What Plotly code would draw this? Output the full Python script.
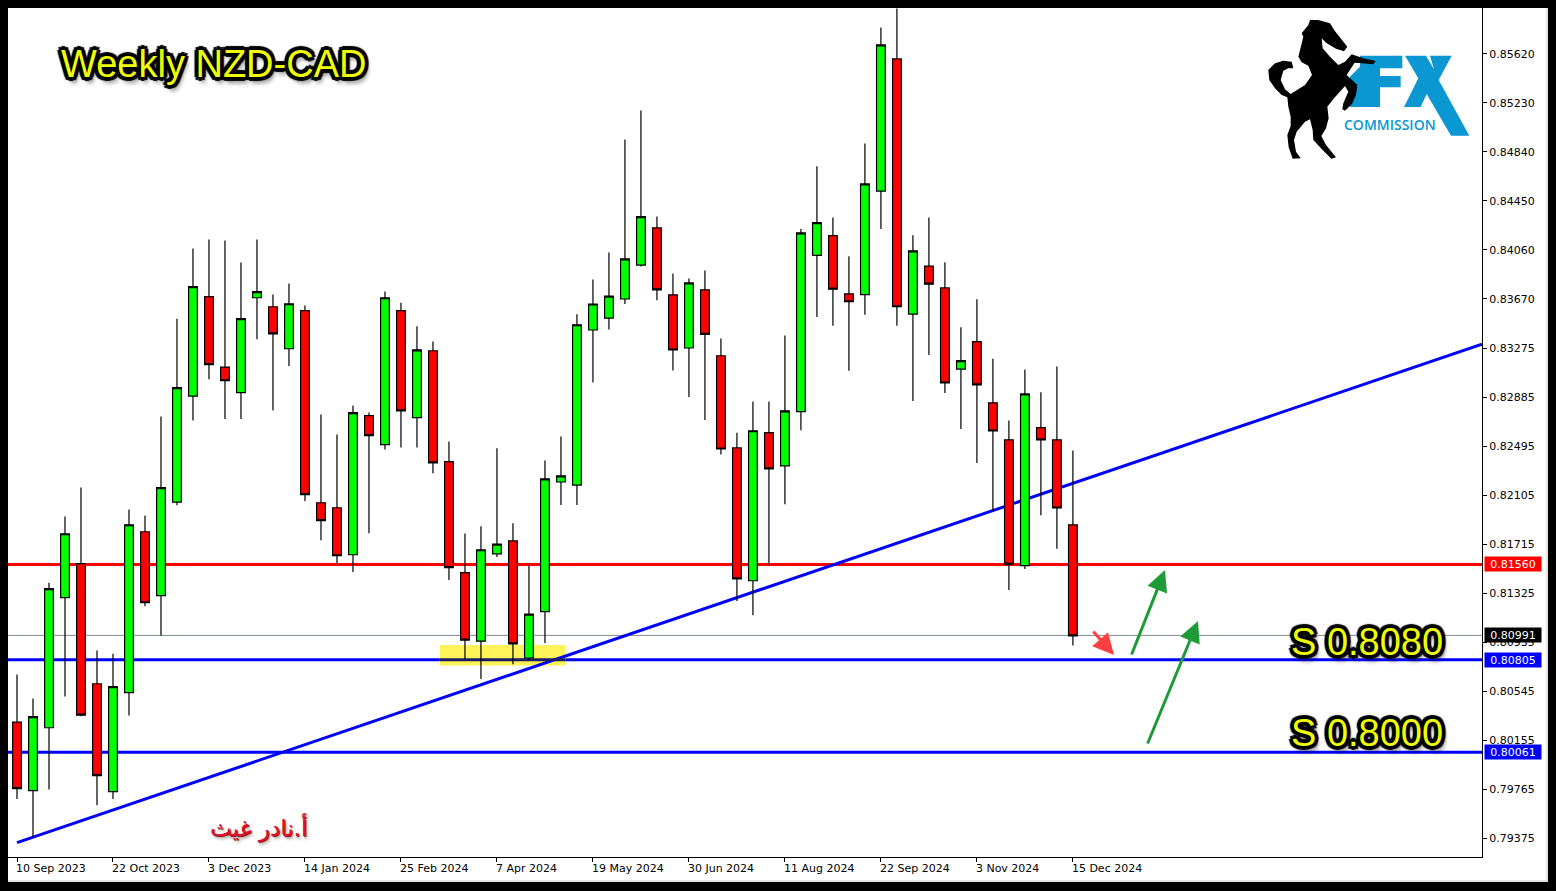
import pandas as pd
import plotly.graph_objects as go

# ---------- data ----------
start_week = "2023-09-10"
open_ = [0.80301,0.79755,0.80256,0.81291,0.81562,0.80606,0.79747,0.80535,0.81816,0.81307,
         0.82052,0.82896,0.83687,0.83127,0.82923,0.83679,0.83607,0.83273,0.83576,0.82047,
         0.82007,0.81633,0.82740,0.82509,0.83576,0.82724,0.83257,0.82374,0.81490,0.80945,
         0.81640,0.81743,0.80811,0.81180,0.82212,0.82188,0.83422,0.83516,0.83669,0.83939,
         0.84235,0.83702,0.83279,0.83742,0.83217,0.82483,0.81426,0.82605,0.82340,0.82772,
         0.84016,0.84173,0.83710,0.83704,0.84528,0.85580,0.83549,0.83931,0.83757,0.83111,
         0.83329,0.82842,0.82548,0.81546,0.82645,0.82548,0.81871]
high = [0.80680,0.80489,0.81410,0.81938,0.82169,0.80871,0.80845,0.81994,0.81946,0.82734,
        0.83512,0.84071,0.84143,0.84135,0.83960,0.84143,0.83705,0.83793,0.83618,0.82750,
        0.82591,0.82822,0.82766,0.83729,0.83639,0.83451,0.83331,0.82535,0.81803,0.81859,
        0.82480,0.81883,0.81545,0.82384,0.82575,0.83547,0.83825,0.84040,0.84939,0.85170,
        0.84326,0.83872,0.83833,0.83896,0.83355,0.82605,0.82852,0.82852,0.83379,0.84227,
        0.84726,0.84318,0.84009,0.84907,0.85831,0.85982,0.84177,0.84318,0.83962,0.83443,
        0.83667,0.83194,0.82702,0.83108,0.82927,0.83131,0.82463]
low = [0.79688,0.79385,0.79765,0.80505,0.80348,0.79638,0.79688,0.80354,0.81224,0.80991,
       0.82028,0.82702,0.83031,0.82713,0.82713,0.83349,0.82782,0.83135,0.82060,0.81749,
       0.81562,0.81495,0.81805,0.82471,0.82487,0.82487,0.82282,0.81433,0.80800,0.80643,
       0.81615,0.80762,0.80800,0.80930,0.82030,0.82030,0.83005,0.83427,0.83629,0.83928,
       0.83659,0.83099,0.82889,0.82705,0.82432,0.81265,0.81152,0.81556,0.82035,0.82625,
       0.83526,0.83456,0.83097,0.83543,0.84227,0.83456,0.82856,0.83224,0.82920,0.82635,
       0.82364,0.81982,0.81352,0.81519,0.81948,0.81680,0.80910]
close = [0.79771,0.80344,0.81363,0.81800,0.80356,0.79874,0.80583,0.81872,0.81251,0.82167,
         0.82963,0.83767,0.83146,0.83018,0.83512,0.83727,0.83392,0.83631,0.82111,0.81904,
         0.81625,0.82764,0.82581,0.83679,0.82779,0.83264,0.82365,0.81530,0.80954,0.81673,
         0.81718,0.80924,0.81161,0.82237,0.82261,0.83464,0.83629,0.83692,0.83989,0.84324,
         0.83742,0.83263,0.83797,0.83388,0.82475,0.81441,0.82620,0.82316,0.82779,0.84196,
         0.84277,0.83747,0.83647,0.84585,0.85691,0.83607,0.84052,0.83787,0.83000,0.83178,
         0.82986,0.82618,0.81559,0.82913,0.82548,0.82005,0.80987]

x_tick_dates = ["2023-09-10","2023-10-22","2023-12-03","2024-01-14","2024-02-25","2024-04-07",
                "2024-05-19","2024-06-30","2024-08-11","2024-09-22","2024-11-03","2024-12-15"]
x_tick_labels = ["10 Sep 2023","22 Oct 2023","3 Dec 2023","14 Jan 2024","25 Feb 2024","7 Apr 2024",
                 "19 May 2024","30 Jun 2024","11 Aug 2024","22 Sep 2024","3 Nov 2024","15 Dec 2024"]
y_ticks = [0.79375,0.79765,0.80155,0.80545,0.80935,0.81325,0.81715,0.82105,0.82495,0.82885,
           0.83275,0.83670,0.84060,0.84450,0.84840,0.85230,0.85620,0.86010]

# price labels and where each level's line sits on the picture's scale
label_red, line_red = "0.81560", 0.81556
label_blue_1, line_blue_1 = "0.80805", 0.80798
label_blue_2, line_blue_2 = "0.80061", 0.80061
label_last, line_last = "0.80991", 0.80991
trend_x = ["2023-09-10", "2025-06-12"]
trend_y = [0.79341, 0.83310]
zone_x = ["2024-03-13", "2024-05-07"]
zone_y = [0.80751, 0.80914]

title_text = "Weekly NZD-CAD"
support_1 = "S 0.8080"
support_2 = "S 0.8000"
author = "أ.نادر غيث"

# ---------- page geometry ----------
W, H = 1556, 891
L, R, T, B = 8, 1482, 0, 857
def px(x): return (x - L) / (R - L)
def py(y): return 1 - (y - T) / (B - T)

dates = pd.date_range(start_week, periods=len(open_), freq="7D")

BLUE = "#0000ff"; RED = "#ff0000"
UI = "DejaVu Sans"

def poly(points):
    return "M" + " L".join(f"{px(1250+a/3):.5f},{py(b/3):.5f}" for a, b in points) + " Z"

F_SHAPE = [(330,167),(457,167),(457,205),(390,205),(390,228),(452,228),(452,262),(390,262),(390,321),(300,321),(300,230),(330,200)]
X_SHAPE = [(465,167),(528,167),(552,208),(540,167),(605,167),(566,240),(658,407),(603,407),(530,282),(512,321),(462,321),(505,235)]
HORSE = [(180,60),(205,60),(240,70),(254,92),(292,140),(282,154),(258,146),(228,128),(215,115),(218,145),(240,170),
         (265,195),(285,185),(305,163),(340,175),(377,183),(370,193),(335,190),(314,188),(290,225),(322,255),(318,285),
         (306,312),(285,332),(277,328),(280,310),(295,275),(285,258),(252,295),(232,320),(236,355),(228,385),(214,408),
         (228,435),(258,472),(244,476),(215,447),(190,420),(188,390),(180,358),(165,365),(140,395),(132,420),(138,455),
         (152,475),(128,476),(116,442),(112,405),(122,378),(122,350),(115,320),(112,292),(95,285),(75,265),(58,240),
         (55,210),(75,190),(100,182),(125,185),(130,205),(115,205),(100,212),(92,240),(105,268),(122,282),(165,255),
         (186,225),(175,197),(155,187),(145,170),(160,110),(155,100),(175,75)]

def rect_px(x0, y0, x1, y1, color, layer="above"):
    return dict(type="rect", xref="paper", yref="paper", x0=px(x0), x1=px(x1), y0=py(y0), y1=py(y1),
                fillcolor=color, line=dict(width=0), layer=layer)

def hline(value, color, width):
    return dict(type="line", xref="paper", yref="y", x0=0, x1=1, y0=value, y1=value,
                line=dict(color=color, width=width), layer="below")

shapes = [
    dict(type="rect", xref="x", yref="y", x0=zone_x[0], x1=zone_x[1], y0=zone_y[0], y1=zone_y[1],
         fillcolor="#fff35a", line=dict(width=0), layer="below"),
    hline(line_last, "#808a94", 1),
    hline(line_red, RED, 3),
    hline(line_blue_1, BLUE, 3),
    hline(line_blue_2, BLUE, 3),
    dict(type="line", xref="x", yref="y", x0=trend_x[0], x1=trend_x[1], y0=trend_y[0], y1=trend_y[1],
         line=dict(color=BLUE, width=3), layer="below"),
    dict(type="line", xref="x", yref="y", x0=zone_x[0], x1=zone_x[1], y0=line_blue_1, y1=line_blue_1,
         line=dict(color="#1a1a66", width=3), layer="below"),
    dict(type="path", xref="paper", yref="paper", path=poly(F_SHAPE), fillcolor="#0a97d2", line=dict(width=0), layer="above"),
    dict(type="path", xref="paper", yref="paper", path=poly(X_SHAPE), fillcolor="#0a97d2", line=dict(width=0), layer="above"),
    dict(type="path", xref="paper", yref="paper", path=poly(HORSE), fillcolor="#000000", line=dict(width=0), layer="above"),
    # window frame
    rect_px(1546, 8, 1548, 882, "#e4e4e4"),
    rect_px(8, 880, 1548, 882, "#e4e4e4"),
    rect_px(0, 0, W, 8, "#000000"),
    rect_px(0, 882, W, H, "#000000"),
    rect_px(0, 0, 8, H, "#000000"),
    rect_px(1548, 0, W, H, "#000000"),
]

OUTLINE = ",".join(f"{a}px {b}px 1px #000" for a, b in
                   [(4,0),(-4,0),(0,4),(0,-4),(3,3),(-3,3),(3,-3),(-3,-3),(2,0),(-2,0),(0,2),(0,-2)]) + ",3px 6px 4px rgba(0,0,0,.5)"

def big(text, x, y):
    return dict(text=text, xref="paper", yref="paper", x=px(x), y=py(y), xanchor="center", yanchor="middle",
                showarrow=False, font=dict(family="Liberation Sans", size=38, color="#f0ff00", shadow=OUTLINE))

def price_box(text, value, color):
    return dict(text=text, xref="paper", yref="y", x=px(1484), y=value, xanchor="left", yanchor="middle",
                showarrow=False, width=56, height=14, bgcolor=color, borderpad=0, align="center",
                font=dict(family=UI, size=11, color="#ffffff"))

def arrow(x0, y0, x1, y1, color, width, size):
    return dict(text="", xref="paper", yref="paper", x=px(x1), y=py(y1), ax=x0 - x1, ay=y0 - y1,
                axref="pixel", ayref="pixel", showarrow=True, arrowhead=2, arrowsize=size, arrowwidth=width,
                arrowcolor=color)

annotations = [
    big(title_text, 213, 64),
    big(support_1, 1367, 642),
    big(support_2, 1367, 733),
    dict(text=author, xref="paper", yref="paper", x=px(258), y=py(827), xanchor="center", yanchor="middle",
         showarrow=False, font=dict(family="DejaVu Sans", size=23, color="#e0102f",
                                    shadow="1px 1px 1px #800,2px 3px 3px rgba(0,0,0,.35)")),
    dict(text="COMMISSION", xref="paper", yref="paper", x=px(1390), y=py(124.5), xanchor="center", yanchor="middle",
         showarrow=False, font=dict(family="Open Sans", size=14, color="#0a97d2", weight=600)),
    price_box(label_red, line_red, RED),
    price_box(label_last, line_last, "#000000"),
    price_box(label_blue_1, line_blue_1, BLUE),
    price_box(label_blue_2, line_blue_2, BLUE),
    arrow(1092, 630, 1114, 655, "#ff4040", 3, 1.4),
    arrow(1131, 656, 1165, 570, "#1e9a36", 3, 1.4),
    arrow(1147, 745, 1198, 621, "#1e9a36", 3, 1.4),
]

fig = go.Figure(go.Candlestick(
    x=dates, open=open_, high=high, low=low, close=close,
    increasing=dict(fillcolor="#00ff00", line=dict(color="#000000", width=1.2)),
    decreasing=dict(fillcolor="#ff0000", line=dict(color="#000000", width=1.2)),
    whiskerwidth=0, hoverinfo="skip", showlegend=False,
))

fig.update_layout(
    width=W, height=H, margin=dict(l=L, r=W - R, t=T, b=H - B, pad=0, autoexpand=False),
    paper_bgcolor="#ffffff", plot_bgcolor="#ffffff", showlegend=False, hovermode=False, boxgap=0.22,
    font=dict(family=UI, size=11, color="#000000"),
    xaxis=dict(type="date", range=["2023-09-06 01:30", "2025-06-12"], rangeslider=dict(visible=False),
               tickmode="array", tickvals=x_tick_dates, ticktext=x_tick_labels, ticks="outside", ticklen=4,
               tickcolor="#000000", ticklabelposition="outside right", tickangle=0, ticklabelshift=-2, ticklabelstandoff=1,
               showline=True, linecolor="#000000", linewidth=1, showgrid=False, zeroline=False,
               tickfont=dict(family=UI, size=11, color="#000000")),
    yaxis=dict(side="right", range=[0.79227, 0.86049], tickmode="array", tickvals=y_ticks, tickformat=".5f",
               ticks="outside", ticklen=4, tickcolor="#000000", showline=True, linecolor="#000000", linewidth=1,
               showgrid=False, zeroline=False, tickfont=dict(family=UI, size=11, color="#000000")),
    shapes=shapes, annotations=annotations,
)

fig.write_html("out.html", config=dict(displayModeBar=False),
               post_script="document.body.style.margin='0';document.body.style.overflow='hidden';")
